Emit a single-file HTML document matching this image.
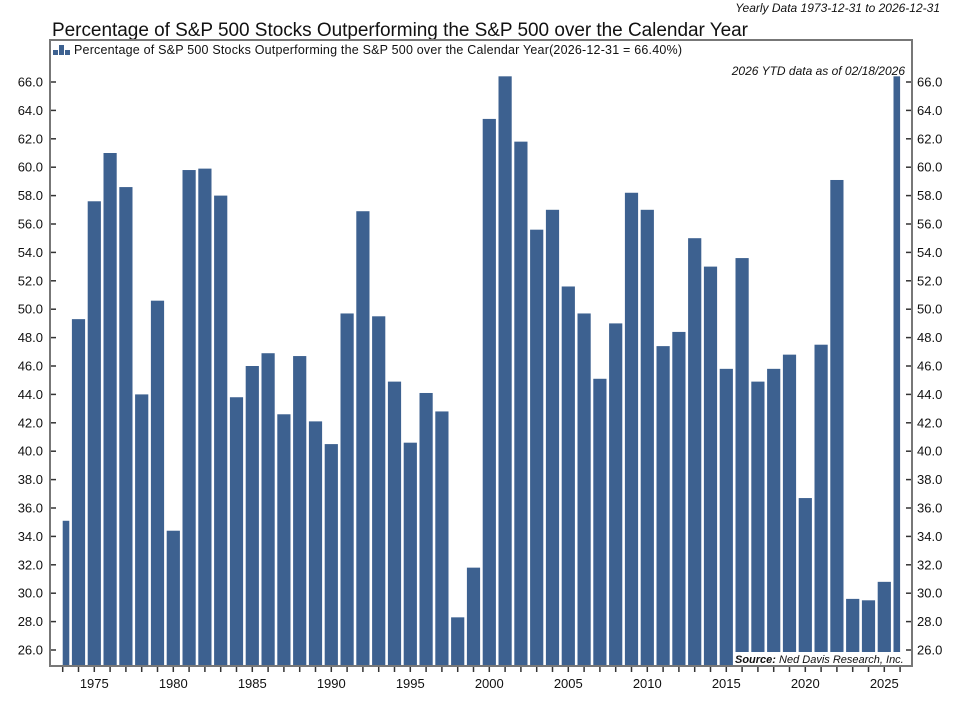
<!DOCTYPE html>
<html><head><meta charset="utf-8"><style>
body{margin:0;background:#fff;font-family:"Liberation Sans",sans-serif;}
svg text{font-family:"Liberation Sans",sans-serif;fill:#111;}
</style></head><body>
<svg id="chart" width="958" height="708" xmlns="http://www.w3.org/2000/svg">
<text x="940" y="12" text-anchor="end" font-size="12" font-style="italic" fill="#333">Yearly Data 1973-12-31 to 2026-12-31</text>
<text x="52" y="36" font-size="19" fill="#333" textLength="696">Percentage of S&amp;P 500 Stocks Outperforming the S&amp;P 500 over the Calendar Year</text>
<defs><clipPath id="pc"><rect x="62.7" y="40" width="837.4" height="626"/></clipPath></defs>
<g id="bars" clip-path="url(#pc)"></g>
<rect x="733" y="652" width="173" height="14" fill="#fff"/>
<text x="735" y="663" font-size="11" font-style="italic"><tspan font-weight="bold">Source:</tspan>   Ned Davis Research, Inc.</text>
<rect x="50" y="40" width="862" height="626" fill="none" stroke="#777" stroke-width="2"/>
<g id="axes"></g>
<g>
<rect x="53" y="50" width="5" height="5" fill="#3d6190"/><rect x="59" y="45" width="5" height="10" fill="#3d6190"/><rect x="65" y="50" width="5" height="5" fill="#3d6190"/>
<text x="74" y="54" font-size="12.5" textLength="608">Percentage of S&amp;P 500 Stocks Outperforming the S&amp;P 500 over the Calendar Year(2026-12-31 = 66.40%)</text>
</g>
<text x="905" y="75" text-anchor="end" font-size="12" font-style="italic">2026 YTD data as of 02/18/2026</text>
</svg>
<script>
const years=[];for(let y=1973;y<=2026;y++)years.push(y);
const values=[35.1,49.3,57.6,61.0,58.6,44.0,50.6,34.4,59.8,59.9,58.0,43.8,46.0,46.9,42.6,46.7,42.1,40.5,49.7,56.9,49.5,44.9,40.6,44.1,42.8,28.3,31.8,63.4,66.4,61.8,55.6,57.0,51.6,49.7,45.1,49.0,58.2,57.0,47.4,48.4,55.0,53.0,45.8,53.6,44.9,45.8,46.8,36.7,47.5,59.1,29.6,29.5,30.8,66.4];
const yTicks=[26,28,30,32,34,36,38,40,42,44,46,48,50,52,54,56,58,60,62,64,66];
const xLabels=[1975,1980,1985,1990,1995,2000,2005,2010,2015,2020,2025];
const NS="http://www.w3.org/2000/svg";
const xs=y=>62.7+(y-1973)*15.8;
const ys=v=>650-(v-26)*14.2;
const bottom=666;
const bars=document.getElementById('bars'),axes=document.getElementById('axes');
function mk(t,a,p){const e=document.createElementNS(NS,t);for(const k in a)e.setAttribute(k,a[k]);p.appendChild(e);return e;}
years.forEach((yr,i)=>{
 const r=mk('rect',{x:xs(yr)-6.6,y:ys(values[i]),width:13.2,height:bottom-ys(values[i]),fill:'#3d6190'},bars);
 
 
 mk('line',{x1:xs(yr),x2:xs(yr),y1:667,y2:672,stroke:'#333','stroke-width':1.5},axes);
});
yTicks.forEach(v=>{
 mk('line',{x1:51,x2:56,y1:ys(v),y2:ys(v),stroke:'#333','stroke-width':1.5},axes);
 mk('line',{x1:906,x2:911,y1:ys(v),y2:ys(v),stroke:'#333','stroke-width':1.5},axes);
 const l=mk('text',{x:43,y:ys(v)+4.5,'text-anchor':'end','font-size':13},axes);l.textContent=v.toFixed(1);
 
 
 const r=mk('text',{x:917,y:ys(v)+4.5,'font-size':13},axes);r.textContent=v.toFixed(1);
 
 
});
xLabels.forEach(y=>{
 const t=mk('text',{x:xs(y),y:688,'text-anchor':'middle','font-size':13},axes);t.textContent=y;
 
 
});
</script>
</body></html>
